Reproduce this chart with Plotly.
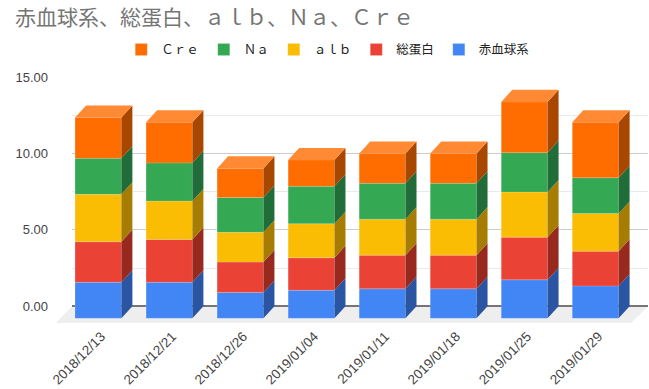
import plotly.graph_objects as go

dates = ["2018/12/13", "2018/12/21", "2018/12/26", "2019/01/04",
         "2019/01/11", "2019/01/18", "2019/01/25", "2019/01/29"]
rbc = [2.36, 2.36, 1.69, 1.84, 1.93, 1.93, 2.52, 2.12]
tp  = [2.65, 2.80, 1.99, 2.12, 2.20, 2.20, 2.79, 2.27]
alb = [3.10, 2.51, 1.95, 2.23, 2.36, 2.36, 2.95, 2.47]
na  = [2.36, 2.50, 2.28, 2.45, 2.34, 2.34, 2.58, 2.34]
cre = [2.67, 2.66, 1.90, 1.72, 1.95, 1.95, 3.32, 3.63]

names = ["赤血球系", "総蛋白", "ａｌｂ", "Ｎａ", "Ｃｒｅ"]
series = [rbc, tp, alb, na, cre]
front = ["#4285f4", "#ea4335", "#fbbc04", "#34a853", "#ff6d01"]
side = ["#2a55a2", "#97291f", "#a67c03", "#206d39", "#a84800"]
top_colour = "#ff8a33"

W, H = 649, 389
L, R, T, B = 72, 1, 77, 66.3
BAR_W = 0.652
DX, DY = 0.155, 0.787      # depth of the 3D effect in data units
FLOOR = -1.09
FONT = "Liberation Sans, Arial, Noto Sans CJK JP, sans-serif"

fig = go.Figure()
idx = list(range(len(dates)))
base = [0.0] * len(dates)
for name, vals, fc, sc in zip(names, series, front, side):
    fig.add_bar(x=idx, y=vals, base=[b - DY for b in base], name=name,
                width=BAR_W, marker=dict(color=fc, line=dict(color="rgba(255,255,255,0.3)", width=0.5)))
    sx, sy = [], []
    for i, b, v in zip(idx, base, vals):
        r = i + BAR_W / 2
        sx += [r, r + DX, r + DX, r, r, None]
        sy += [b - DY, b, b + v, b + v - DY, b - DY, None]
    fig.add_scatter(x=sx, y=sy, mode="lines", fill="toself", fillcolor=sc,
                    line=dict(width=0), showlegend=False, hoverinfo="skip", cliponaxis=False)
    base = [b + v for b, v in zip(base, vals)]

tx, ty = [], []
for i, b in zip(idx, base):
    l, r = i - BAR_W / 2, i + BAR_W / 2
    tx += [l, l + DX, r + DX, r, l, None]
    ty += [b - DY, b, b, b - DY, b - DY, None]
fig.add_scatter(x=tx, y=ty, mode="lines", fill="toself", fillcolor=top_colour,
                line=dict(width=0), showlegend=False, hoverinfo="skip", cliponaxis=False)

pw = W - L - R
fig.update_layout(
    width=W, height=H, barmode="overlay", autosize=False,
    margin=dict(l=L, r=R, t=T, b=B, pad=0),
    paper_bgcolor="white", plot_bgcolor="white",
    font=dict(family=FONT, color="#222222", size=13),
    title=dict(text="赤血球系、総蛋白、ａｌｂ、Ｎａ、Ｃｒｅ", x=15 / W, xref="container", xanchor="left",
               y=1 - 18 / H, yanchor="middle",
               font=dict(size=21, color="#757575", family="Liberation Sans, Noto Sans CJK JP, sans-serif")),
    legend=dict(orientation="h", traceorder="reversed", x=0.444, xanchor="center", y=1 + 27 / (H - T - B),
                yanchor="middle", font=dict(size=12.5, color="#222222"), itemwidth=30,
                bgcolor="rgba(0,0,0,0)"),
    xaxis=dict(range=[-0.369, 7.74], tickvals=idx, ticktext=dates, tickangle=-45,
               showgrid=False, zeroline=False, showline=False, ticks="",
               ticklabelshift=3, ticklabelstandoff=2, tickfont=dict(size=13.5, color="#444444")),
    yaxis=dict(range=[FLOOR, 15], tickvals=[0, 5, 10, 15], tickformat=".2f",
               showgrid=True, gridcolor="#cccccc", gridwidth=1,
               minor=dict(dtick=2.5, tick0=0, showgrid=True, gridcolor="#eaeaea", gridwidth=1),
               zeroline=True, zerolinecolor="#757575", zerolinewidth=1.5,
               showline=False, ticks="", ticklabelstandoff=23,
               tickfont=dict(size=13, color="#444444")),
    showlegend=True,
    shapes=[dict(type="path", xref="paper", yref="y", layer="below", line=dict(width=0),
                 fillcolor="#eeeeee",
                 path=f"M 0 0 L 1 0 L {1 - 17 / pw} {FLOOR} L {-16 / pw} {FLOOR} Z")],
)
fig.write_html("out.html", post_script="document.body.style.margin='0';",
               config=dict(displayModeBar=False))
